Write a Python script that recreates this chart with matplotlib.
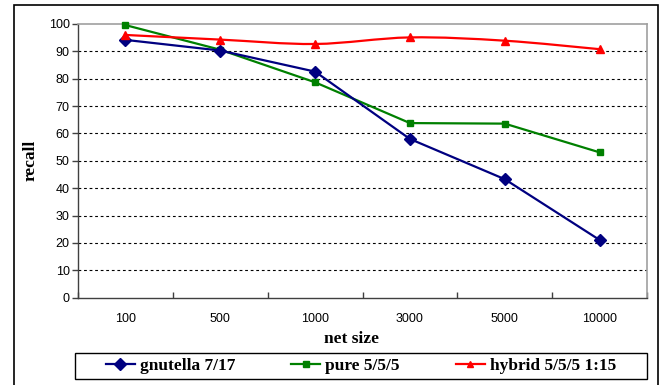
import matplotlib
matplotlib.use("Agg")
import matplotlib.pyplot as plt
from matplotlib.path import Path
from matplotlib.patches import PathPatch, Rectangle
from matplotlib.lines import Line2D

# Data
net_sizes = ["100", "500", "1000", "3000", "5000", "10000"]
gnutella = [94.2, 90.3, 82.6, 58.0, 43.3, 21.1]
pure = [99.6, 90.6, 78.7, 63.8, 63.6, 53.1]
hybrid = [96.0, 94.3, 92.7, 95.1, 93.9, 90.8]
series_names = ["gnutella 7/17", "pure 5/5/5", "hybrid 5/5/5 1:15"]
y_ticks = list(range(0, 101, 10))

W, H = 663, 385
fig = plt.figure(figsize=(W / 100, H / 100), dpi=100)
fig.patch.set_facecolor("white")

# Outer chart frame
fig.patches.append(Rectangle((14 / W, -0.05), (657.5 - 14) / W, 1.05 - 4.5 / H,
                             transform=fig.transFigure, fill=False,
                             edgecolor="black", linewidth=1.2))

left, right, top, bottom = 78, 647, 24, 297.7
ax = fig.add_axes([left / W, 1 - bottom / H, (right - left) / W, (bottom - top) / H])

x = list(range(len(net_sizes)))
ax.set_xlim(-0.5, len(net_sizes) - 0.5)
ax.set_ylim(0, 100)

# Gridlines
for v in y_ticks[1:-1]:
    ax.axhline(v, color="black", linewidth=0.8, linestyle=(0, (2.5, 2.5)), zorder=1)

# Spines
ax.spines["top"].set_color("#a0a0a0")
ax.spines["right"].set_color("#a0a0a0")
ax.spines["top"].set_linewidth(1.2)
ax.spines["right"].set_linewidth(1.2)
ax.spines["left"].set_color("#404040")
ax.spines["bottom"].set_color("#404040")
ax.spines["left"].set_linewidth(1.0)
ax.spines["bottom"].set_linewidth(1.0)

ax.set_yticks(y_ticks)
ax.set_yticklabels([str(v) for v in y_ticks], fontfamily="Liberation Sans", fontsize=9)
ax.tick_params(axis="y", direction="out", length=4, width=1, color="#404040", pad=2)

ax.set_xticks(x)
ax.set_xticklabels(net_sizes, fontfamily="Liberation Sans", fontsize=9)
ax.set_xticks([i - 0.5 for i in range(len(net_sizes) + 1)], minor=True)
ax.tick_params(axis="x", which="major", length=0, pad=11)
ax.tick_params(axis="x", which="minor", direction="in", length=4, width=1, color="#404040")

ax.set_ylabel("recall", fontfamily="Liberation Serif", fontweight="bold", fontsize=12.5)
ax.yaxis.set_label_coords((39 - left) / (right - left), 0.5)
ax.set_xlabel("net size", fontfamily="Liberation Serif", fontweight="bold", fontsize=12.5)
ax.xaxis.set_label_coords((351.5 - left) / (right - left), -(331 - bottom) / (bottom - top))

# Series
ax.plot(x, gnutella, color="#000080", linewidth=1.6, marker="D", markersize=6,
        zorder=4, clip_on=False)
ax.plot(x, pure, color="#008000", linewidth=1.6, marker="s", markersize=5,
        zorder=3, clip_on=False)

# Smoothed hybrid curve (Catmull-Rom converted to cubic Bezier segments)
verts = [(x[0], hybrid[0])]
codes = [Path.MOVETO]
n = len(x)
for i in range(n - 1):
    p0 = (x[max(i - 1, 0)], hybrid[max(i - 1, 0)])
    p1 = (x[i], hybrid[i])
    p2 = (x[i + 1], hybrid[i + 1])
    p3 = (x[min(i + 2, n - 1)], hybrid[min(i + 2, n - 1)])
    c1 = (p1[0] + (p2[0] - p0[0]) / 6, p1[1] + (p2[1] - p0[1]) / 6)
    c2 = (p2[0] - (p3[0] - p1[0]) / 6, p2[1] - (p3[1] - p1[1]) / 6)
    verts += [c1, c2, p2]
    codes += [Path.CURVE4] * 3
ax.add_patch(PathPatch(Path(verts, codes), fill=False, edgecolor="#ff0000",
                       linewidth=1.6, zorder=5))
ax.plot(x, hybrid, linestyle="none", color="#ff0000", marker="^", markersize=6,
        zorder=5, clip_on=False)

# Legend
handles = [
    Line2D([], [], color="#000080", linewidth=1.6, marker="D", markersize=6),
    Line2D([], [], color="#008000", linewidth=1.6, marker="s", markersize=4),
    Line2D([], [], color="#ff0000", linewidth=1.6, marker="^", markersize=5),
]
fs = 12.5
fs_px = fs * 100 / 72
lx0, lx1, ly0, ly1 = 75, 647, 352.5, 379
leg = fig.legend(handles, series_names, ncol=3,
                 bbox_to_anchor=(lx0 / W, 1 - ly1 / H, (lx1 - lx0) / W, (ly1 - ly0) / H),
                 loc="center", frameon=False,
                 borderaxespad=0, handlelength=29 / fs_px, handletextpad=5 / fs_px,
                 columnspacing=56 / fs_px, borderpad=0.2,
                 prop={"family": "Liberation Serif", "weight": "bold", "size": fs})
fig.patches.append(Rectangle((lx0 / W, 1 - ly1 / H), (lx1 - lx0) / W, (ly1 - ly0) / H,
                             transform=fig.transFigure, fill=False,
                             edgecolor="black", linewidth=1.0))

fig.savefig("out.png", dpi=100)
